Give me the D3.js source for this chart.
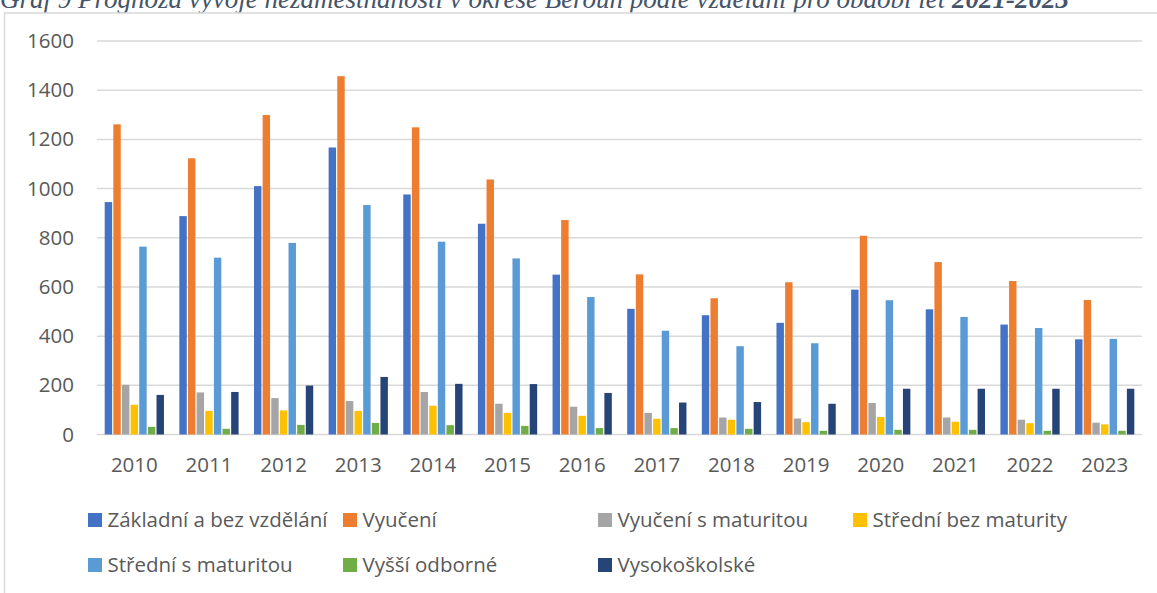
<!DOCTYPE html>
<html>
<head>
<meta charset="utf-8">
<script src="https://cdn.jsdelivr.net/npm/d3@7"></script>
<style>
  body { margin: 0; background: #fff; }
  svg { display: block; }
</style>
</head>
<body>
<div id="graph"></div>
<script>
// years on the x axis
var years = ["2010","2011","2012","2013","2014","2015","2016","2017","2018","2019","2020","2021","2022","2023"];

// one array per education level
var zakladni    = [945, 888, 1010, 1167, 976, 857, 650, 511, 485, 454, 589, 509, 447, 387];
var vyuceni     = [1261, 1123, 1299, 1457, 1249, 1037, 872, 651, 554, 619, 808, 701, 624, 547];
var vyucMat     = [202, 171, 148, 136, 173, 125, 113, 88, 69, 65, 128, 69, 60, 48];
var stredniBez  = [121, 96, 98, 96, 117, 88, 76, 64, 60, 50, 71, 52, 46, 41];
var stredniMat  = [764, 719, 779, 933, 784, 716, 559, 422, 359, 371, 546, 478, 433, 389];
var vyssiOdb    = [31, 23, 39, 47, 38, 35, 26, 26, 23, 15, 19, 19, 15, 15];
var vysokoskol  = [161, 173, 199, 234, 206, 205, 169, 130, 132, 125, 186, 186, 186, 186];

var seriesNames = ["Základní a bez vzdělání","Vyučení","Vyučení s maturitou","Střední bez maturity",
                   "Střední s maturitou","Vyšší odborné","Vysokoškolské"];
var seriesColors = ["#4472C4","#ED7D31","#A5A5A5","#FFC000","#5B9BD5","#70AD47","#264478"];
var yTicks = [0, 200, 400, 600, 800, 1000, 1200, 1400, 1600];

var allSeries = [zakladni, vyuceni, vyucMat, stredniBez, stredniMat, vyssiOdb, vysokoskol];

var W = 1157, H = 593;
var margin = {top: 41, left: 97, right: 15};
var fontSize = "20.5px";

var svg = d3.select("#graph").append("svg")
    .attr("width", W)
    .attr("height", H)
    .style("font-family", "'Open Sans', sans-serif");

// caption above the chart (cut off at the top like in the scan)
var cap = svg.append("text")
    .attr("x", 0)
    .attr("y", 8)
    .attr("fill", "#44546A")
    .style("font-family", "'Liberation Serif', serif")
    .style("font-style", "italic")
    .style("font-size", "27px");
cap.append("tspan").text("Graf 9 Prognóza vývoje nezaměstnanosti v okrese Beroun podle vzdělání pro období let ");
cap.append("tspan").attr("font-weight", "bold").text("2021-2023");

// chart area frame
svg.append("rect")
    .attr("x", 4.5)
    .attr("y", 13)
    .attr("width", W)
    .attr("height", H)
    .attr("fill", "#fff")
    .attr("stroke", "#D9D9D9")
    .attr("stroke-width", 1.5);

var x0 = d3.scaleBand()
    .domain(years)
    .range([margin.left, W - margin.right])
    .paddingInner(0.19)
    .paddingOuter(0.095);

var x1 = d3.scaleBand()
    .domain(d3.range(seriesNames.length))
    .range([0, x0.bandwidth()]);

var y = d3.scaleLinear()
    .domain([0, 1600])
    .range([434.5, margin.top]);

// gridlines
svg.append("g")
    .selectAll("line")
    .data(yTicks)
    .enter().append("line")
    .attr("x1", margin.left)
    .attr("x2", W - margin.right)
    .attr("y1", function(d) { return y(d); })
    .attr("y2", function(d) { return y(d); })
    .attr("stroke", "#D9D9D9")
    .attr("stroke-width", 1.5);

// y axis labels
var yAxis = svg.append("g")
    .attr("transform", "translate(74,0)")
    .call(d3.axisLeft(y).tickValues(yTicks).tickFormat(d3.format("d")).tickSize(0).tickPadding(0));
yAxis.select(".domain").remove();
yAxis.selectAll("text")
    .attr("fill", "#595959")
    .style("font-family", "'Open Sans', sans-serif")
    .style("font-size", fontSize);

// x axis labels
var xAxis = svg.append("g")
    .attr("transform", "translate(0,465)")
    .call(d3.axisBottom(x0).tickSize(0).tickPadding(0));
xAxis.select(".domain").remove();
xAxis.selectAll("text")
    .attr("y", 0)
    .attr("fill", "#595959")
    .attr("dy", "0.35em")
    .style("font-family", "'Open Sans', sans-serif")
    .style("font-size", fontSize);

// bars
var groups = svg.append("g")
    .selectAll("g")
    .data(years)
    .enter().append("g")
    .attr("transform", function(d) { return "translate(" + x0(d) + ",0)"; });

groups.selectAll("rect")
    .data(function(d, i) {
      return allSeries.map(function(s, k) { return {k: k, v: s[i]}; });
    })
    .enter().append("rect")
    .attr("x", function(d) { return x1(d.k) + 0.6; })
    .attr("width", x1.bandwidth() - 1.2)
    .attr("y", function(d) { return y(d.v); })
    .attr("height", function(d) { return y(0) - y(d.v); })
    .attr("fill", function(d) { return seriesColors[d.k]; });

// legend: 4 columns of 255px, two rows
var legend = svg.append("g")
    .selectAll("g")
    .data(seriesNames)
    .enter().append("g")
    .attr("transform", function(d, i) {
      return "translate(" + (88 + (i % 4) * 255) + "," + (520 + Math.floor(i / 4) * 45) + ")";
    });

legend.append("rect")
    .attr("x", 0)
    .attr("y", -7)
    .attr("width", 14)
    .attr("height", 14)
    .attr("fill", function(d, i) { return seriesColors[i]; });

legend.append("text")
    .attr("x", 19.5)
    .attr("dy", "0.35em")
    .attr("fill", "#595959")
    .style("font-size", fontSize)
    .text(function(d) { return d; });
</script>
</body>
</html>
